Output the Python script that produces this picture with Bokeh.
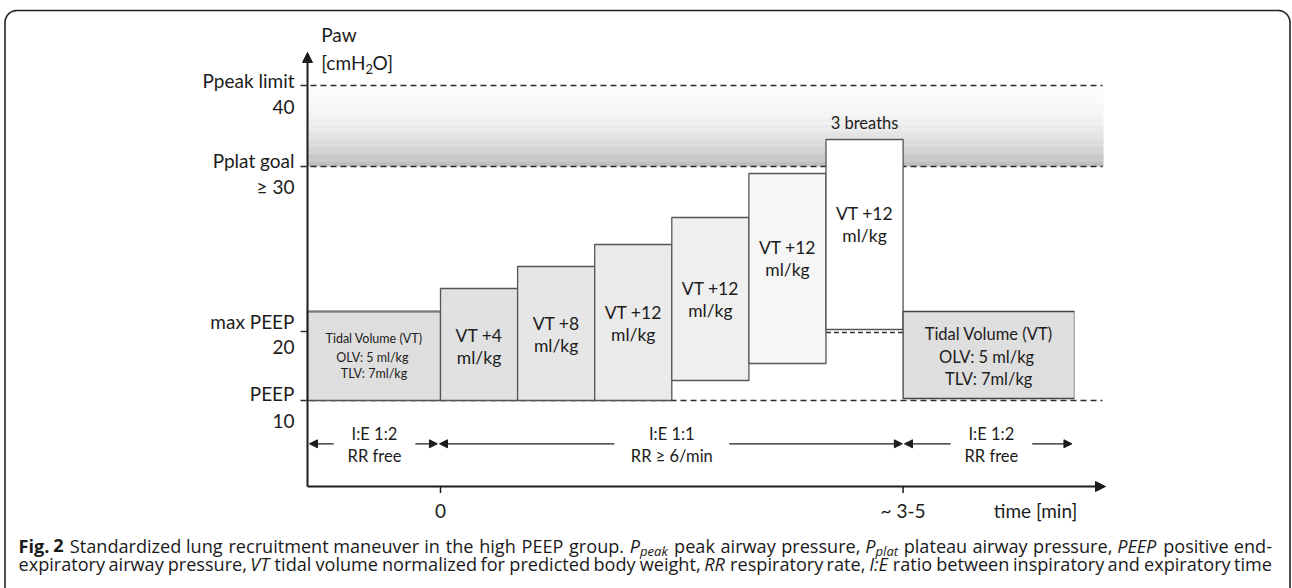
import numpy as np
from bokeh.plotting import figure
from bokeh.models import Range1d, Arrow, NormalHead, ColumnDataSource
from bokeh.core.properties import value
from bokeh.embed import file_html
from bokeh.resources import INLINE

# ---------------- data (schematic units) ----------------
# x: maneuver steps (0 = start of recruitment, 6 = end at ~3-5 min)
# y: displayed airway pressure level (schematic, not to scale)
step_text = ["Tidal Volume (VT)", "VT +4", "VT +8", "VT +12", "VT +12", "VT +12", "VT +12", "Tidal Volume (VT)"]
step_left = [-1.725, 0.0, 1.0, 2.0, 3.0, 4.0, 5.0, 6.0]
step_right = [0.0, 1.0, 2.0, 3.0, 4.0, 5.0, 6.0, 8.22]
step_top = [17.5, 19.8, 22.0, 24.2, 26.9, 31.3, 34.7, 17.5]
step_bottom = [8.6, 8.6, 8.6, 8.6, 10.6, 12.3, 15.7, 8.8]
step_label_y = [14.8, 15.1, 16.3, 17.4, 19.8, 23.9, 27.3, 15.3]
step_fill = ["#dedede", "#e1e1e1", "#e6e6e6", "#eaeaea", "#efefef", "#f6f6f6", "#ffffff", "#dedede"]

level_names = ["PEEP", "max PEEP", "Pplat goal", "Ppeak limit"]
level_values = ["10", "20", "\u2265 30", "40"]
level_y = [8.6, 15.5, 32.0, 40.1]
level_name_y = [9.33, 16.53, 32.6, 40.6]
level_value_y = [6.6, 13.93, 30.0, 38.0]

time_ticks = [0.0, 6.0]
time_labels = ["0", "~ 3-5"]

phase_ie = ["I:E 1:2", "I:E 1:1", "I:E 1:2"]
phase_rr = ["RR free", "RR \u2265 6/min", "RR free"]
phase_tip_l = [-1.70, -0.013, 6.018]
phase_tip_r = [-0.04, 5.99, 8.19]
phase_mid = [-0.856, 3.0, 7.145]
phase_gap = [0.53, 0.745, 0.53]

# ---------------- helpers: picture pixel -> schematic units ----------------
PX, PY, X0, Y0 = 77.1, 10.0, 440.0, 486.0
def X(px):
    return (px - X0) / PX
def Y(py):
    return (Y0 - py) / PY

W, H = 1292, 588
p = figure(width=W, height=H, x_range=Range1d(X(0), X(W)), y_range=Range1d(Y(H), Y(0)),
           output_backend="svg", toolbar_location=None, min_border=0,
           x_axis_location=None, y_axis_location=None)
p.grid.visible = False
p.outline_line_color = None
p.background_fill_color = "white"
p.border_fill_color = "white"

INK = "#1c1c1c"
LATO = value("Lato")

def txt(x, y, s, size, align="center", font=LATO, style="normal", color=INK):
    p.text(x=[x], y=[y], text=[s], text_font=font, text_font_size=value(size),
           text_font_style=style, text_align=align, text_baseline="middle", text_color=color)

# ---------------- gradient band between Pplat goal and Ppeak limit ----------------
ax_x = step_left[0]
g_lo, g_hi = level_y[2], level_y[3]
n = 70
edges = np.linspace(g_lo, g_hi, n + 1)
cols = []
for i in range(n):
    t = 1 - (i + 0.5) / n  # 1 at bottom, 0 at top
    g = int(round(252 - 66 * t ** 2))
    cols.append("#%02x%02x%02x" % (g, g, g))
p.quad(left=[ax_x] * n, right=[X(1103)] * n, bottom=list(edges[:-1]), top=list(edges[1:] + 0.03),
       fill_color=cols, line_color=None)

# ---------------- dashed level lines ----------------
for i in [0, 2, 3]:
    p.line([X(300), X(1102)], [level_y[i], level_y[i]], line_dash="6 4", line_color="#2a2a2a", line_width=1.4)
p.line([X(300), ax_x], [level_y[1], level_y[1]], line_color="#2a2a2a", line_width=1.4)

# ---------------- step boxes ----------------
src = ColumnDataSource(dict(left=step_left[:7], right=step_right[:7], top=step_top[:7],
                            bottom=step_bottom[:7], fill=step_fill[:7]))
p.quad(left="left", right="right", top="top", bottom="bottom", fill_color="fill", source=src,
       line_color="#555555", line_width=1.3)
p.line([step_left[0], step_right[0]], [step_top[0], step_top[0]], line_color="#7a7a7a", line_width=2)
# final box: solid left/top/bottom, dotted right
p.quad(left=[step_left[7]], right=[step_right[7]], top=[step_top[7]], bottom=[step_bottom[7]],
       fill_color=step_fill[7], line_color=None)
p.line([step_right[7], step_left[7], step_left[7], step_right[7]],
       [step_top[7], step_top[7], step_bottom[7], step_bottom[7]], line_color="#444444", line_width=1.3)
p.line([step_right[7], step_right[7]], [step_top[7], step_bottom[7]], line_color="#555555",
       line_width=1.2, line_dash="1 1")
# max PEEP reference under last recruitment box
p.line([step_left[6], step_right[6]], [level_y[1] - 0.1, level_y[1] - 0.1], line_dash="5 3",
       line_color="#333333", line_width=1.3)

# ---------------- texts in boxes ----------------
mid = [(a + b) / 2 for a, b in zip(step_left, step_right)]
for i in range(1, 7):
    txt(mid[i], step_label_y[i], step_text[i], "17.5px")
    txt(mid[i], step_label_y[i] - 2.2, "ml/kg", "17.5px")
txt(mid[0], step_label_y[0], step_text[0], "12.5px")
txt(mid[0], step_label_y[0] - 1.87, "OLV:  5 ml/kg", "12.5px")
txt(mid[0], step_label_y[0] - 3.53, "TLV: 7ml/kg", "12.5px")
txt(mid[7], step_label_y[7], step_text[7], "16.5px")
txt(mid[7], step_label_y[7] - 2.37, "OLV:  5 ml/kg", "16.5px")
txt(mid[7], step_label_y[7] - 4.53, "TLV: 7ml/kg", "16.5px")
txt(mid[6], Y(122), "3 breaths", "16.5px")

# ---------------- axes ----------------
p.add_layout(Arrow(end=NormalHead(size=10, fill_color=INK, line_color=INK), x_start=ax_x, y_start=0,
                   x_end=ax_x, y_end=Y(52), line_width=2, line_color=INK))
p.add_layout(Arrow(end=NormalHead(size=10, fill_color=INK, line_color=INK), x_start=ax_x, y_start=0,
                   x_end=X(1105), y_end=0, line_width=2, line_color=INK))
for t, lab in zip(time_ticks, time_labels):
    p.line([t, t], [0, -0.65], line_color=INK, line_width=1.5)
    txt(t, Y(510), lab, "19px")
txt(X(1035), Y(510), "time [min]", "19px")

for nm, vl, ny, vy in zip(level_names, level_values, level_name_y, level_value_y):
    txt(X(294), ny, nm, "19px", align="right")
    txt(X(294), vy, vl, "19px", align="right")

txt(X(320.7), Y(34), "Paw", "19px", align="left")
txt(X(320.7), Y(62), "[cmH", "19px", align="left")
txt(X(365), Y(68.5), "2", "13px", align="left")
txt(X(372), Y(62), "O]", "19px", align="left")

# ---------------- phase arrows ----------------
arrow_y = Y(443.3)
for i in range(3):
    for tip, inner in [(phase_tip_l[i], phase_mid[i] - phase_gap[i]), (phase_tip_r[i], phase_mid[i] + phase_gap[i])]:
        p.add_layout(Arrow(end=NormalHead(size=8, fill_color=INK, line_color=INK), x_start=inner,
                           y_start=arrow_y, x_end=tip, y_end=arrow_y, line_width=1.2, line_color=INK))
    txt(phase_mid[i], Y(433), phase_ie[i], "16.5px")
    txt(phase_mid[i], Y(455.5), phase_rr[i], "16.5px")

# ---------------- caption (word-placed, first line justified) ----------------
OS = {' ': 532, ',': 502, '.': 545, ':': 545, '-': 659, '2': 1171, 'E': 1139, 'F': 1057, 'I': 571,
      'P': 1233, 'R': 1266, 'S': 1124, 'T': 1133, 'V': 1219, 'a': 1139, 'b': 1255, 'c': 975, 'd': 1255,
      'e': 1149, 'f': 694, 'g': 1122, 'h': 1257, 'i': 518, 'k': 1075, 'l': 518, 'm': 1905, 'n': 1257,
      'o': 1237, 'p': 1255, 'r': 836, 's': 977, 't': 723, 'u': 1257, 'v': 1026, 'w': 1593, 'x': 1073,
      'y': 1028, 'z': 977}
FAC = {"normal": 0.985, "italic": 0.95, "bold": 1.0}
def ow(s, size, style):
    return sum(OS.get(c, 1100) for c in s) / 2048.0 * size * FAC[style]

cap1 = [("Fig. 2", "bold", False), (" Standardized lung recruitment maneuver in the high PEEP group. ", "normal", False),
        ("P", "italic", False), ("peak", "italic", True), (" peak airway pressure, ", "normal", False),
        ("P", "italic", False), ("plat", "italic", True), (" plateau airway pressure, ", "normal", False),
        ("PEEP", "italic", False), (" positive end-", "normal", False)]
cap2 = [("expiratory airway pressure, ", "normal", False), ("VT", "italic", False),
        (" tidal volume normalized for predicted body weight, ", "normal", False), ("RR", "italic", False),
        (" respiratory rate, ", "normal", False), ("I:E", "italic", False),
        (" ratio between inspiratory and expiratory time", "normal", False)]
SUB = 0.72

def tokens(segs):
    out = []  # [text, style, sub, space_before]
    pending = False
    for s, st, sub in segs:
        parts = s.split(" ")
        for k, w in enumerate(parts):
            if k > 0:
                pending = True
            if w == "":
                continue
            out.append([w, st, sub, pending and len(out) > 0])
            pending = False
    return out

def tok_width(toks, size):
    w = sum(ow(t, size * (SUB if sub else 1.0), st) for t, st, sub, spb in toks)
    nsp = sum(1 for t in toks if t[3])
    return w + nsp * ow(" ", size, "normal"), nsp

cap_x0, cap_x1 = 18.0, 1271.0
t1, t2 = tokens(cap1), tokens(cap2)
w1, _ = tok_width(t1, 1.0)
w2, _ = tok_width(t2, 1.0)
csize = (cap_x1 - cap_x0) / max(w1, w2)
OSF = value("Open Sans")
for toks, line_py, justify in [(t1, 545.0, True), (t2, 563.0, False)]:
    natural, nsp = tok_width(toks, csize)
    extra = (cap_x1 - cap_x0 - natural) / max(nsp, 1) if justify else 0.0
    xp = cap_x0
    for w, st, sub, spb in toks:
        if spb:
            xp += ow(" ", csize, "normal") + extra
        sz = csize * (SUB if sub else 1.0)
        yy = line_py + (0.3 * csize if sub else 0.0)
        txt(X(xp), Y(yy), w, "%.2fpx" % sz, align="left", font=OSF, style=st, color="#1a1a1a")
        xp += ow(w, sz, st)

# ---------------- rounded frame ----------------
R = 12.0
fl, fr, ft, fb = 4.5, 1289.5, 10.0, 600.0
th1 = np.linspace(np.pi, np.pi / 2, 12)
th2 = np.linspace(np.pi / 2, 0, 12)
fx = [fl] + list(fl + R + R * np.cos(th1)) + list(fr - R + R * np.cos(th2)) + [fr]
fy = [fb] + list(ft + R - R * np.sin(th1)) + list(ft + R - R * np.sin(th2)) + [fb]
p.line([X(v) for v in fx], [Y(v) for v in fy], line_color="#222222", line_width=1.6)

open("out.html", "w").write(file_html(p, INLINE))
